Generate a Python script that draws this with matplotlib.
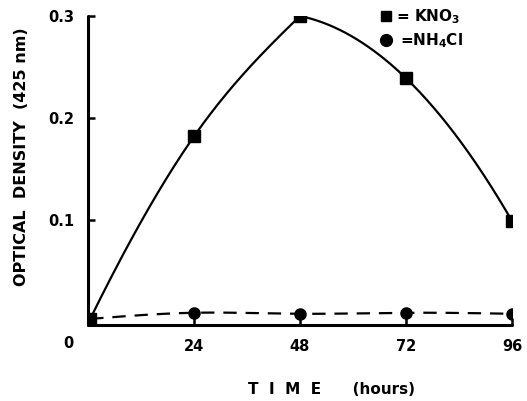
import numpy as np
import matplotlib
matplotlib.use("Agg")
import matplotlib.pyplot as plt

# Data
time_h = [0.5, 24, 48, 72, 96]
kno3 = [0.003, 0.182, 0.300, 0.239, 0.099]
nh4cl = [0.003, 0.009, 0.008, 0.009, 0.008]
xticks = [24, 48, 72, 96]
yticks = [0.1, 0.2, 0.3]
ytick_labels = ["0.1", "0.2", "0.3"]


def natural_spline(x, y, n=300):
    x = np.asarray(x, float)
    y = np.asarray(y, float)
    m = len(x)
    h = np.diff(x)
    A = np.zeros((m, m))
    b = np.zeros(m)
    A[0, 0] = 1
    A[-1, -1] = 1
    for i in range(1, m - 1):
        A[i, i - 1] = h[i - 1]
        A[i, i] = 2 * (h[i - 1] + h[i])
        A[i, i + 1] = h[i]
        b[i] = 6 * ((y[i + 1] - y[i]) / h[i] - (y[i] - y[i - 1]) / h[i - 1])
    M = np.linalg.solve(A, b)
    xs = np.linspace(x[0], x[-1], n)
    ys = np.empty_like(xs)
    for k, xv in enumerate(xs):
        i = min(np.searchsorted(x, xv, side="right") - 1, m - 2)
        t1 = x[i + 1] - xv
        t0 = xv - x[i]
        ys[k] = (M[i] * t1 ** 3 / (6 * h[i]) + M[i + 1] * t0 ** 3 / (6 * h[i])
                 + (y[i] / h[i] - M[i] * h[i] / 6) * t1
                 + (y[i + 1] / h[i] - M[i + 1] * h[i] / 6) * t0)
    return xs, ys


def hermite(x, y, slopes, n=80):
    xs_all, ys_all = [], []
    for i in range(len(x) - 1):
        h = x[i + 1] - x[i]
        t = np.linspace(0, 1, n)
        h00 = 2 * t ** 3 - 3 * t ** 2 + 1
        h10 = t ** 3 - 2 * t ** 2 + t
        h01 = -2 * t ** 3 + 3 * t ** 2
        h11 = t ** 3 - t ** 2
        xs_all.append(x[i] + t * h)
        ys_all.append(h00 * y[i] + h10 * h * slopes[i] + h01 * y[i + 1]
                      + h11 * h * slopes[i + 1])
    return np.concatenate(xs_all), np.concatenate(ys_all)


def quad_through(x, y, n=150):
    c = np.polyfit(x, y, 2)
    xs = np.linspace(x[0], x[-1], n)
    return xs, np.polyval(c, xs)


W, H = 527, 401
fig = plt.figure(figsize=(W / 100, H / 100), dpi=100)
L, R, B, T = 88, 512, 325, 16
ax = fig.add_axes([L / W, 1 - B / H, (R - L) / W, (B - T) / H])

fw = "bold"
fam = "DejaVu Sans"

# KNO3: smooth rising branch, falling branch meets it at the peak
xa, ya = hermite(time_h[:3], kno3[:3], [0.0088, 0.0062, 0.0042])
xb, yb = quad_through(time_h[2:], kno3[2:])
ax.plot(np.r_[xa, xb], np.r_[ya, yb], color="black", lw=1.6,
        solid_joinstyle="round")
ax.plot(time_h, kno3, ls="none", marker="s", ms=8.5, color="black")

xs2, ys2 = natural_spline(time_h, nh4cl)
ax.plot(xs2, ys2, color="black", lw=1.6, ls=(0, (6, 4)))
ax.plot(time_h, nh4cl, ls="none", marker="o", ms=8, color="black")

ax.set_xlim(0, 96)
ax.set_ylim(-0.003, 0.3)
for s in ["top", "right"]:
    ax.spines[s].set_visible(False)
for s in ["left", "bottom"]:
    ax.spines[s].set_linewidth(2.2)
    ax.spines[s].set_capstyle("round")

ax.set_xticks(xticks)
ax.set_xticklabels([str(v) for v in xticks], fontsize=10.5, fontweight=fw, family=fam)
ax.set_yticks(yticks)
ax.set_yticklabels(ytick_labels, fontsize=10.5, fontweight=fw, family=fam)
ax.tick_params(axis="x", direction="in", length=5, width=1.8, pad=10)
ax.tick_params(axis="y", direction="in", length=5, width=1.8, pad=10)

# origin label
fig.text(68 / W, 1 - 343 / H, "0", ha="center", va="center",
         fontsize=10.5, fontweight=fw, family=fam)

# axis labels
fig.text(22 / W, 1 - 157 / H, "OPTICAL  DENSITY  (425 nm)", rotation=90,
         ha="center", va="center", fontsize=11.5, fontweight=fw, family=fam)
fig.text(332 / W, 1 - 390 / H, "T  I  M  E      (hours)", ha="center", va="center",
         fontsize=11, fontweight=fw, family=fam)

# legend
ax.plot([(386 - L) / (R - L)], [(B - 16) / (B - T)], marker="s", ms=7.5,
        color="black", transform=ax.transAxes, clip_on=False)
ax.plot([(386 - L) / (R - L)], [(B - 40) / (B - T)], marker="o", ms=8.5,
        color="black", transform=ax.transAxes, clip_on=False)
ax.text((396 - L) / (R - L), (B - 17) / (B - T), "= KNO$_\\mathbf{3}$",
        transform=ax.transAxes, ha="left", va="center", fontsize=11,
        fontweight=fw, family=fam)
ax.text((400 - L) / (R - L), (B - 41) / (B - T), "=NH$_\\mathbf{4}$Cl",
        transform=ax.transAxes, ha="left", va="center", fontsize=11,
        fontweight=fw, family=fam)

fig.savefig("out.png", dpi=100)
